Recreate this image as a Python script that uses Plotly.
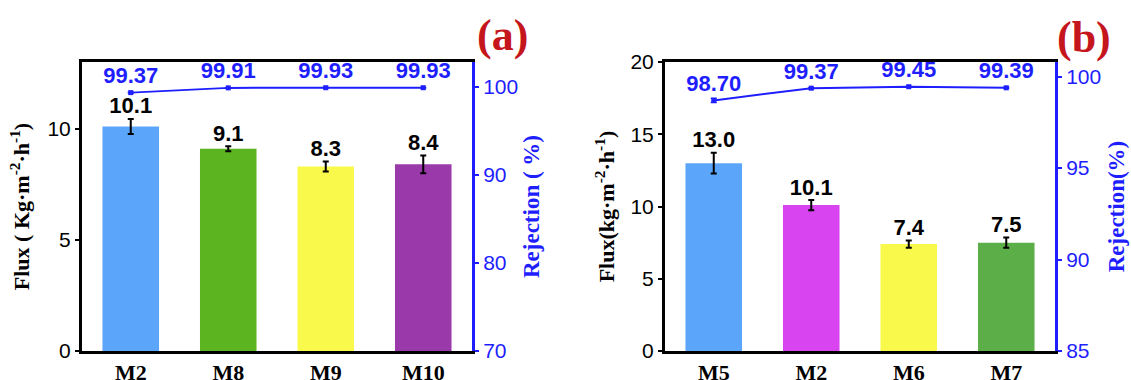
import plotly.graph_objects as go

# ---------------- data ----------------
cats_a = ["M2", "M8", "M9", "M10"]
flux_a = [10.1, 9.1, 8.3, 8.4]
flux_err_a = [0.34, 0.11, 0.22, 0.40]
rej_a = [99.37, 99.91, 99.93, 99.93]
rej_err_a = [0.05, 0.02, 0.02, 0.02]
colors_a = ["#5BA6FB", "#5DB421", "#F9F94C", "#9A3AAA"]

cats_b = ["M5", "M2", "M6", "M7"]
flux_b = [13.0, 10.1, 7.4, 7.5]
flux_err_b = [0.72, 0.35, 0.25, 0.35]
rej_b = [98.70, 99.37, 99.45, 99.39]
rej_err_b = [0.12, 0.03, 0.03, 0.03]
colors_b = ["#5BA6FB", "#D844F0", "#F9F94C", "#5CAE48"]

ticks_flux_a = [0, 5, 10]
ticks_rej_a = [70, 80, 90, 100]
ticks_flux_b = [0, 5, 10, 15, 20]
ticks_rej_b = [85, 90, 95, 100]

BLUE = "#1E1EFF"
RED = "#C4161C"
SANS = "Liberation Sans, Arial, sans-serif"
SERIF = "Liberation Serif, Times New Roman, serif"
NB = "\u00a0"

fig = go.Figure()


def add_panel(cats, flux, ferr, rej, rerr, colors, xa, ya, ya2):
    fig.add_trace(go.Bar(
        x=cats, y=flux, width=0.58, marker=dict(color=colors, line=dict(width=0)),
        error_y=dict(type="data", array=ferr, color="black", thickness=2, width=3),
        xaxis=xa, yaxis=ya, showlegend=False))
    fig.add_trace(go.Scatter(
        x=cats, y=[f + e for f, e in zip(flux, ferr)], mode="text",
        text=[f"{f:.1f}" for f in flux], textposition="top center",
        textfont=dict(family=SANS, size=22, color="black", weight="bold"),
        xaxis=xa, yaxis=ya, showlegend=False))
    fig.add_trace(go.Scatter(
        x=cats, y=rej, mode="lines+markers+text",
        line=dict(color=BLUE, width=2), marker=dict(color=BLUE, size=5, symbol="square"),
        error_y=dict(type="data", array=rerr, color=BLUE, thickness=1.5, width=3),
        text=[f"{r:.2f}" for r in rej], textposition="top center",
        textfont=dict(family=SANS, size=22, color=BLUE, weight="bold"),
        xaxis=xa, yaxis=ya2, showlegend=False))


add_panel(cats_a, flux_a, flux_err_a, rej_a, rej_err_a, colors_a, "x", "y", "y2")
add_panel(cats_b, flux_b, flux_err_b, rej_b, rej_err_b, colors_b, "x2", "y3", "y4")

ydom = [0.0763, 0.8368]
xcommon = dict(type="category", range=[-0.5, 3.5], showline=True, linewidth=3,
               linecolor="black", mirror=True, ticks="", showgrid=False, automargin=False,
               tickfont=dict(family=SERIF, size=22, color="black", weight="bold"))
yleft = dict(showline=True, linewidth=3, linecolor="black", ticks="outside",
             ticklen=4, tickwidth=2, tickcolor="black", showgrid=False, zeroline=False,
             automargin=False, tickfont=dict(family=SANS, size=21, color="black"))
yright = dict(showline=True, linewidth=3, linecolor=BLUE, ticks="outside",
              ticklen=4, tickwidth=2, tickcolor=BLUE, showgrid=False, zeroline=False,
              automargin=False, side="right", tickfont=dict(family=SANS, size=21, color=BLUE))

fig.update_layout(
    width=1131, height=380, margin=dict(l=0, r=0, t=0, b=0, autoexpand=False),
    plot_bgcolor="white", paper_bgcolor="white", bargap=0.4,
    xaxis=dict(domain=[82 / 1131, 472 / 1131], anchor="y", **xcommon),
    xaxis2=dict(domain=[665 / 1131, 1055 / 1131], anchor="y3", **xcommon),
    yaxis=dict(domain=ydom, anchor="x", range=[0, 13], tickvals=ticks_flux_a,
               title=dict(text=f"<b>Flux{NB}({NB}Kg·m<sup>-2</sup>·h<sup>-1</sup>)</b>", standoff=12,
                          font=dict(family=SERIF, size=22, color="black")), **yleft),
    yaxis2=dict(domain=ydom, anchor="x", overlaying="y", range=[70, 102.85],
                tickvals=ticks_rej_a,
                title=dict(text=f"<b>Rejection{NB}({NB}%)</b>", standoff=6,
                           font=dict(family=SERIF, size=23, color=BLUE)), **yright),
    yaxis3=dict(domain=ydom, anchor="x2", range=[0, 20], tickvals=ticks_flux_b,
                title=dict(text="<b>Flux(kg·m<sup>-2</sup>·h<sup>-1</sup>)</b>", standoff=10,
                           font=dict(family=SERIF, size=22, color="black")), **yleft),
    yaxis4=dict(domain=ydom, anchor="x2", overlaying="y3", range=[85, 100.8],
                tickvals=ticks_rej_b,
                title=dict(text="<b>Rejection(%)</b>", standoff=8,
                           font=dict(family=SERIF, size=23, color=BLUE)), **yright),
    annotations=[
        dict(text="<b>(a)</b>", x=502 / 1131, y=1 - 36 / 380, xref="paper", yref="paper",
             xanchor="center", yanchor="middle",
             showarrow=False, font=dict(family=SERIF, size=44, color=RED)),
        dict(text="<b>(b)</b>", x=1084 / 1131, y=1 - 38 / 380, xref="paper", yref="paper",
             xanchor="center", yanchor="middle",
             showarrow=False, font=dict(family=SERIF, size=44, color=RED)),
    ],
)

fig.write_html("out.html")
